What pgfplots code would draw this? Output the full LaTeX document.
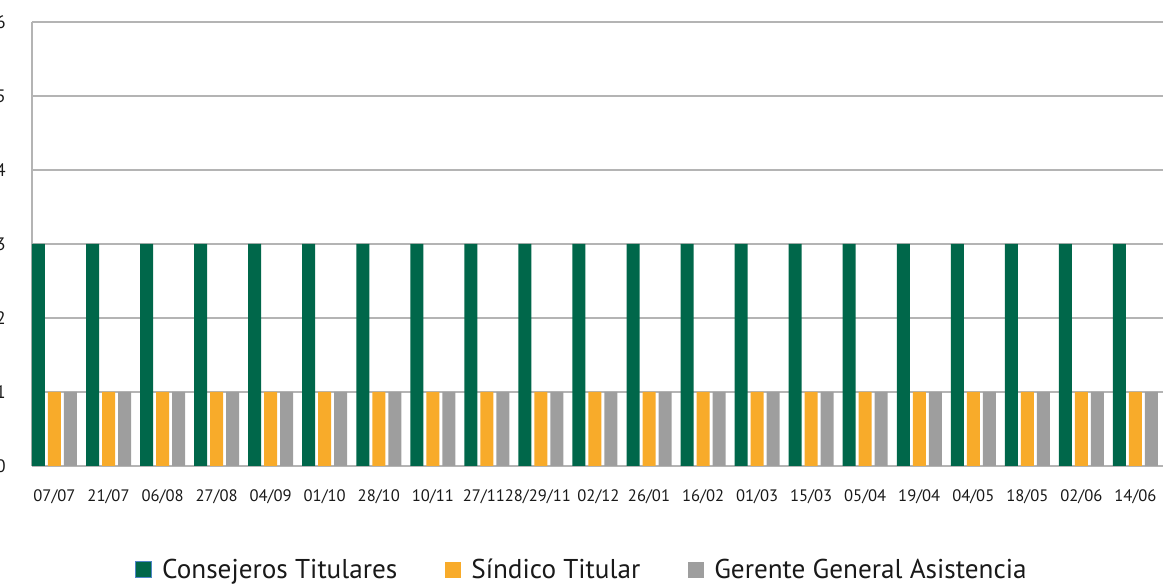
\documentclass[border=0pt]{standalone}
\usepackage{fontspec}
\setmainfont{PT Sans}
\usepackage{pgfplots}
\pgfplotsset{compat=1.18}
\definecolor{cgreen}{HTML}{00674A}
\definecolor{corange}{HTML}{F8AB2A}
\definecolor{cgray}{HTML}{9E9E9E}
\definecolor{cgrid}{HTML}{B4B4B4}
\definecolor{cblue}{HTML}{4F86C6}
\begin{document}
\begin{tikzpicture}
\begin{axis}[
  name=ax,
  scale only axis,
  x=27.025pt, y=37pt,
  xmin=-0.416, xmax=20.51,
  ymin=0, ymax=6,
  ybar, bar width=6.5pt,
  axis lines*=left,
  axis line style={draw=cgrid, line width=1pt},
  ymajorgrids,
  grid style={draw=cgrid, line width=0.7pt},
  major tick length=0pt,
  ytick={0,1,2,3,4,5,6},
  xtick={0,...,20},
  xticklabels={07/07,21/07,06/08,27/08,04/09,01/10,28/10,10/11,27/11\kern3pt,28/29/11\kern3pt,\kern3.5pt 02/12,26/01,16/02,01/03,15/03,05/04,19/04,04/05,18/05,02/06,14/06},
  /pgf/number format/assume math mode=true,
  xticklabel style={anchor=north, inner sep=0pt, yshift=-11.5pt, font=\fontsize{8.3}{10}\selectfont, text=black!90},
  yticklabel style={anchor=east, inner sep=0pt, xshift=-13pt, font=\fontsize{9}{10}\selectfont, text=black!90},
  legend columns=3,
  legend style={at={(0.487,-0.234)}, anchor=center, draw=none, fill=none,
    font=\fontsize{13.6}{15}\selectfont, text=black!90,
    /tikz/every odd column/.append style={column sep=3pt},
    /tikz/every even column/.append style={column sep=22pt}},
  legend cell align=left,
]
\addplot[fill=cgreen, draw=none, bar shift=-8pt,
  legend image code/.code={\fill[fill=cgreen, draw=cblue, line width=0.6pt] (0pt,-4pt) rectangle (8pt,4pt);}]
  coordinates {(0,3)(1,3)(2,3)(3,3)(4,3)(5,3)(6,3)(7,3)(8,3)(9,3)(10,3)(11,3)(12,3)(13,3)(14,3)(15,3)(16,3)(17,3)(18,3)(19,3)(20,3)};
\addlegendentry{Consejeros Titulares}
\addplot[fill=corange, draw=none, bar shift=0pt,
  legend image code/.code={\fill[fill=corange] (0pt,-4pt) rectangle (8pt,4pt);}]
  coordinates {(0,1)(1,1)(2,1)(3,1)(4,1)(5,1)(6,1)(7,1)(8,1)(9,1)(10,1)(11,1)(12,1)(13,1)(14,1)(15,1)(16,1)(17,1)(18,1)(19,1)(20,1)};
\addlegendentry{Síndico Titular}
\addplot[fill=cgray, draw=none, bar shift=8pt,
  legend image code/.code={\fill[fill=cgray] (0pt,-4pt) rectangle (8pt,4pt);}]
  coordinates {(0,1)(1,1)(2,1)(3,1)(4,1)(5,1)(6,1)(7,1)(8,1)(9,1)(10,1)(11,1)(12,1)(13,1)(14,1)(15,1)(16,1)(17,1)(18,1)(19,1)(20,1)};
\addlegendentry{Gerente General Asistencia}
\end{axis}
\pgfresetboundingbox
\path[use as bounding box] ([xshift=-16pt, yshift=-59.5pt]ax.south west) rectangle ([yshift=11pt]ax.north east);
\end{tikzpicture}
\end{document}
